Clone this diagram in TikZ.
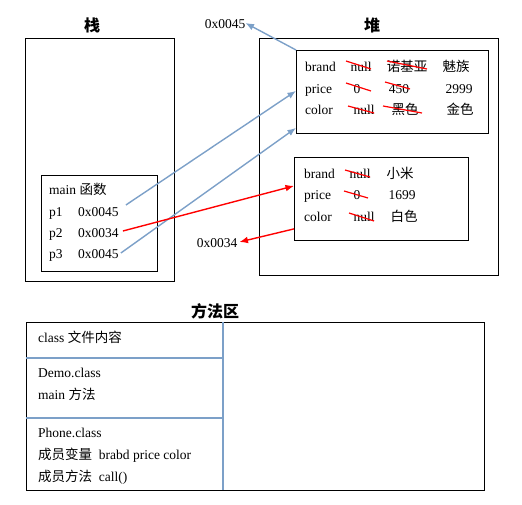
\documentclass[tikz,border=0pt]{standalone}
\usepackage{fontspec}
\setmainfont{Liberation Serif}
\newfontfamily\cjk{Noto Sans CJK SC}
\usetikzlibrary{arrows.meta,positioning}
\definecolor{refblue}{RGB}{124,160,200}

\begin{document}
\begin{tikzpicture}[
    x=1pt, y=-1pt,
    frame/.style={draw, line width=0.8pt, anchor=north west, inner sep=0pt},
    title/.style={font=\cjk\bfseries\fontsize{16}{18}\selectfont, inner sep=0pt},
    txt/.style={font=\fontsize{13.5}{15}\selectfont, inner sep=0pt, anchor=west,
                text height=12pt, text depth=1pt},
    val/.style={font=\fontsize{13.5}{15}\selectfont, inner sep=0pt,
                text height=12pt, text depth=1pt},
    strike/.style={red, line width=1.2pt},
    ref/.style={-{Latex[length=3mm,width=2.4mm]}, refblue, line width=1.4pt},
    newref/.style={-{Latex[length=3mm,width=2.4mm]}, red, line width=1.4pt},
    sep/.style={refblue, line width=1.5pt}
  ]
    \useasboundingbox (0,0) rectangle (522,505);

    % stack
    \node[title] (stklbl) at (92,25) {栈};
    \node[frame, minimum width=149pt, minimum height=243pt] (stk) at (25,38) {};
    \node[frame, minimum width=116pt, minimum height=96pt] (mainfr) at (41,175) {};
    \node[txt] (mainlbl) at (49,189) {main {\cjk 函数}};
    \node[txt] (p1) at (49,211) {p1};
    \node[txt] (p1v) at (78,211) {0x0045};
    \node[txt] (p2) at (49,232) {p2};
    \node[txt] (p2v) at (78,232) {0x0034};
    \node[txt] (p3) at (49,253) {p3};
    \node[txt] (p3v) at (78,253) {0x0045};

    % heap
    \node[title] (heaplbl) at (372,25) {堆};
    \node[frame, minimum width=239pt, minimum height=237pt] (heap) at (259,38) {};
    \node[frame, minimum width=192pt, minimum height=83pt] (obj1) at (296,50) {};
    \node[txt] (o1brand) at (305,66) {brand};
    \node[val] (o1null) at (361,66) {null};
    \node[val] (o1nokia) at (407,66) {\cjk 诺基亚};
    \node[val] (o1meizu) at (456,66) {\cjk 魅族};
    \node[txt] (o1price) at (305,88) {price};
    \node[val] (o1zero) at (357,88) {0};
    \node[val] (o1p450) at (399,88) {450};
    \node[val] (o1p2999) at (459,88) {2999};
    \node[txt] (o1color) at (305,109) {color};
    \node[val] (o1cnull) at (364,109) {null};
    \node[val] (o1black) at (405,109) {\cjk 黑色};
    \node[val] (o1gold) at (460,109) {\cjk 金色};
    \draw[strike] ([shift={(-15,-5)}]o1null.center) -- ([shift={(10,3)}]o1null.center);
    \draw[strike] ([shift={(-20,-5)}]o1nokia.center) -- ([shift={(20,3)}]o1nokia.center);
    \draw[strike] ([shift={(-11,-5)}]o1zero.center) -- ([shift={(14,3)}]o1zero.center);
    \draw[strike] ([shift={(-14,-6)}]o1p450.center) -- ([shift={(11,1)}]o1p450.center);
    \draw[strike] ([shift={(-16,-3)}]o1cnull.center) -- ([shift={(10,4)}]o1cnull.center);
    \draw[strike] ([shift={(-22,-3)}]o1black.center) -- ([shift={(17,4)}]o1black.center);

    \node[frame, minimum width=174pt, minimum height=83pt] (obj2) at (294,157) {};
    \node[txt] (o2brand) at (304,173) {brand};
    \node[val] (o2null) at (360,173) {null};
    \node[val] (o2mi) at (400,173) {\cjk 小米};
    \node[txt] (o2price) at (304,194) {price};
    \node[val] (o2zero) at (357,194) {0};
    \node[val] (o2p1699) at (402,194) {1699};
    \node[txt] (o2color) at (304,216) {color};
    \node[val] (o2cnull) at (364,216) {null};
    \node[val] (o2white) at (404,216) {\cjk 白色};
    \draw[strike] ([shift={(-15,-3)}]o2null.center) -- ([shift={(10,4)}]o2null.center);
    \draw[strike] ([shift={(-13,-3)}]o2zero.center) -- ([shift={(11,4)}]o2zero.center);
    \draw[strike] ([shift={(-15,-3)}]o2cnull.center) -- ([shift={(10,5)}]o2cnull.center);

    % addresses
    \node[val] (addr45) at (225,23) {0x0045};
    \node[val] (addr34) at (217,242) {0x0034};
    \draw[ref] (obj1.north west) -- (addr45.east);
    \draw[ref] ([shift={(7,-6)}]p1v.east) -- ([yshift=1pt]obj1.west);
    \draw[ref] ([shift={(2,0)}]p3v.east) -- ([yshift=-36pt]obj1.west);
    \draw[newref] ([shift={(4,-1)}]p2v.east) -- ([yshift=13pt]obj2.west);
    \draw[newref] ([yshift=-30pt]obj2.west) -- ([xshift=2pt]addr34.east);

    % method area
    \node[title] (methlbl) at (215,311) {方法区};
    \node[frame, minimum width=458pt, minimum height=168pt] (meth) at (26,322) {};
    \draw[sep] (223,322) -- (223,490);
    \draw[sep] (26,358) -- (223,358);
    \draw[sep] (26,418) -- (223,418);
    \node[txt] (classlbl) at (38,337) {class {\cjk 文件内容}};
    \node[txt] (democls) at (38,372) {Demo.class};
    \node[txt] (demomain) at (38,394) {main {\cjk 方法}};
    \node[txt] (phonecls) at (38,432) {Phone.class};
    \node[txt] (phonevar) at (38,454) {{\cjk 成员变量}\ \ brabd price color};
    \node[txt] (phonemeth) at (38,476) {{\cjk 成员方法}\ \ call()};
\end{tikzpicture}
\end{document}
